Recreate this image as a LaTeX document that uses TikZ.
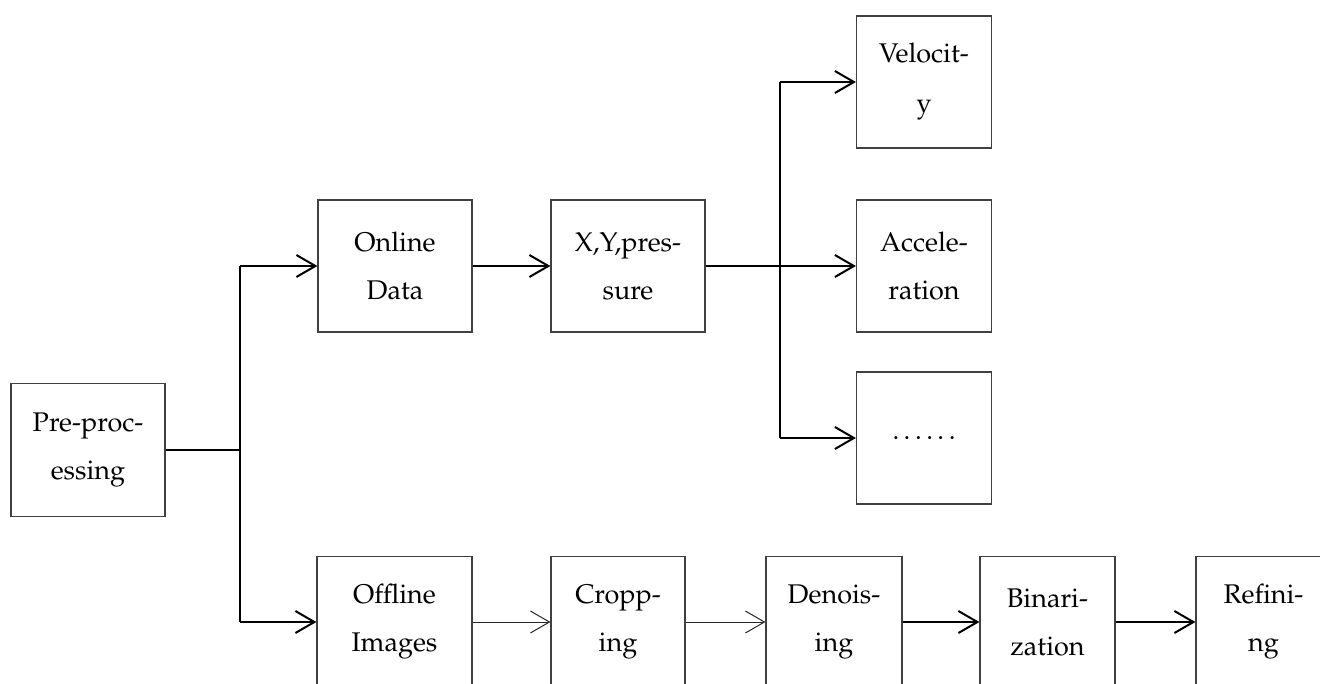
\documentclass[tikz,border=0pt]{standalone}
\usepackage[T1]{fontenc}
\usepackage{mathpazo}
\usetikzlibrary{arrows.meta, positioning}
\tikzset{
	stepbox/.style={draw=black!75, line width=0.6pt, minimum width=77pt, minimum height=66pt,
		align=center, inner sep=0pt, font=\fontsize{13.5}{24}\selectfont},
	smallbox/.style={stepbox, minimum width=67.5pt}
}
\tikzset{
	link/.style={line width=1pt, -{Straight Barb[length=9.5pt, width=11pt]}},
	thinlink/.style={line width=0.5pt, draw=black!85, -{Straight Barb[length=9.5pt, width=11pt]}}
}

\begin{document}
\begin{tikzpicture}[x=0.5pt, y=-0.5pt]
      \useasboundingbox (0,0) rectangle (1320,684);
      % source box
      \node[stepbox, minimum height=66.5pt] (pre) at (88,450) {Pre-proc-\\essing};
      % online branch
      \node[stepbox] (online) at (395,266) {Online\\Data};
      \node[stepbox] (xyp) at (628,266) {X,Y,pres-\\sure};
      \node[smallbox] (vel) at (924,82) {Velocit-\\[1pt]y};
      \node[smallbox] (acc) at (924,266) {Accele-\\ration};
      \node[smallbox] (more) at (924,438) {.\,.\,.\,.\,.\,.};
      % offline branch
      \node[stepbox, minimum width=77.5pt, minimum height=65.5pt] (offline) at (394.5,622) {Offline\\Images};
      \node[smallbox, minimum width=67pt, minimum height=65.5pt] (crop) at (618,622) {Cropp-\\ing};
      \node[smallbox, minimum width=68pt, minimum height=65.5pt] (denoise) at (834,622) {Denois-\\ing};
      \node[smallbox, minimum height=65.5pt] (binar) at (1047.5,622) {Binari-\\zation};
      \node[smallbox, minimum height=65.5pt] (refine) at (1263.5,622) {Refini-\\ng};
      % split after pre-processing
      \coordinate (split) at (240,450);
      \coordinate (splitup) at (240,266);
      \coordinate (splitdown) at (240,622);
      \draw[line width=1pt] (pre.east) -- (split);
      \draw[line width=1pt] (splitup) -- (splitdown);
      \draw[link] (splitup) -- (online.west);
      \draw[link] (splitdown) -- (offline.west);
      \draw[link] (online) -- (xyp);
      % split after x,y,pressure
      \coordinate (fork) at (780,266);
      \coordinate (forkup) at (780,82);
      \coordinate (forkdown) at (780,438);
      \draw[line width=1.2pt] (xyp.east) -- (fork);
      \draw[line width=1pt] (forkup) -- (forkdown);
      \draw[link] (forkup) -- (vel.west);
      \draw[link] (fork) -- (acc.west);
      \draw[link] (forkdown) -- (more.west);
      % offline chain
      \draw[thinlink] (offline) -- (crop);
      \draw[thinlink] (crop) -- (denoise);
      \draw[link] (denoise) -- (binar);
      \draw[link] (binar) -- (refine);
    \end{tikzpicture}
\end{document}
